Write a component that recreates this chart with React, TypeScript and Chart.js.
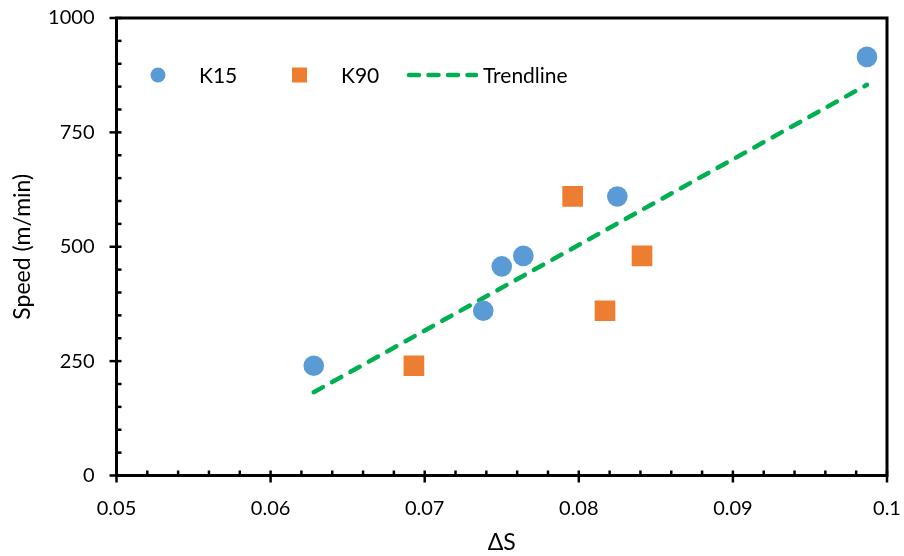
import React, { useEffect, useRef } from 'react';
import { Chart, registerables } from 'chart.js';

Chart.register(...registerables);

// ---- data ----
const k15X = [0.0628, 0.0738, 0.075, 0.0764, 0.0825, 0.0987];
const k15Y = [240, 360, 457, 480, 610, 915];
const k90X = [0.0693, 0.0796, 0.0817, 0.0841];
const k90Y = [240, 610, 360, 480];
const trendX = [0.0628, 0.0987];
const trendY = [182, 854];
const xTicks = [0.05, 0.06, 0.07, 0.08, 0.09, 0.1];
const yTicks = [0, 250, 500, 750, 1000];
const seriesNames = ['K15', 'K90', 'Trendline'];

const BLUE = '#5B9BD5';
const ORANGE = '#ED7D31';
const GREEN = '#00B050';
const FONT = 'Lato';

const toPts = (xs: number[], ys: number[]) => xs.map((x, i) => ({ x, y: ys[i] }));

const zeroPad = (s: any) => {
  s.paddingTop = 0;
  s.paddingBottom = 0;
  s.paddingLeft = 0;
  s.paddingRight = 0;
};

const axesPlugin = {
  id: 'axesFrame',
  beforeDatasetsDraw(chart: any) {
    const { ctx, chartArea: a, scales } = chart;
    const xs = scales.x;
    const ys = scales.y;
    ctx.save();
    ctx.strokeStyle = '#000';
    ctx.lineWidth = 2.5;
    const xMinor = (xTicks[1] - xTicks[0]) / 5;
    const nx = Math.round((xs.max - xs.min) / xMinor);
    for (let i = 0; i <= nx; i++) {
      const px = xs.getPixelForValue(xs.min + i * xMinor);
      const major = i % 5 === 0;
      ctx.beginPath();
      ctx.moveTo(px, a.bottom - 5);
      ctx.lineTo(px, major ? a.bottom + 7 : a.bottom);
      ctx.stroke();
    }
    const yMinor = (yTicks[1] - yTicks[0]) / 5;
    const ny = Math.round((ys.max - ys.min) / yMinor);
    for (let i = 0; i <= ny; i++) {
      const py = ys.getPixelForValue(ys.min + i * yMinor);
      const major = i % 5 === 0;
      ctx.beginPath();
      ctx.moveTo(major ? a.left - 7 : a.left, py);
      ctx.lineTo(a.left + 5, py);
      ctx.stroke();
    }
    ctx.lineWidth = 3;
    ctx.strokeRect(a.left, a.top, a.right - a.left, a.bottom - a.top);
    ctx.restore();
  },
};

const legendPlugin = {
  id: 'insideLegend',
  afterDraw(chart: any) {
    const { ctx } = chart;
    const y = 75;
    ctx.save();
    ctx.font = `21px ${FONT}`;
    ctx.fillStyle = '#000';
    ctx.textBaseline = 'middle';
    ctx.textAlign = 'left';
    // K15
    ctx.beginPath();
    ctx.fillStyle = BLUE;
    ctx.arc(158, y, 7.5, 0, Math.PI * 2);
    ctx.fill();
    ctx.fillStyle = '#000';
    ctx.fillText(seriesNames[0], 199, y + 1);
    // K90
    ctx.fillStyle = ORANGE;
    ctx.fillRect(292, y - 7.5, 15, 15);
    ctx.fillStyle = '#000';
    ctx.fillText(seriesNames[1], 341, y + 1);
    // Trendline
    ctx.strokeStyle = GREEN;
    ctx.lineWidth = 4.5;
    ctx.lineCap = 'round';
    ctx.setLineDash([10, 9.5]);
    ctx.beginPath();
    ctx.moveTo(409, y);
    ctx.lineTo(476, y);
    ctx.stroke();
    ctx.setLineDash([]);
    ctx.fillText(seriesNames[2], 483, y + 1);
    ctx.restore();
  },
};

export default function App() {
  const ref = useRef<HTMLCanvasElement | null>(null);

  useEffect(() => {
    if (!ref.current) return;
    const chart = new Chart(ref.current, {
      type: 'scatter',
      data: {
        datasets: [
          {
            label: seriesNames[0],
            data: toPts(k15X, k15Y),
            backgroundColor: BLUE,
            borderColor: BLUE,
            borderWidth: 0,
            pointRadius: 10.3,
            pointStyle: 'circle',
          },
          {
            label: seriesNames[1],
            data: toPts(k90X, k90Y),
            backgroundColor: ORANGE,
            borderColor: ORANGE,
            borderWidth: 0,
            pointRadius: 14.6,
            pointStyle: 'rect',
          },
          {
            label: seriesNames[2],
            data: toPts(trendX, trendY),
            showLine: true,
            borderColor: GREEN,
            borderWidth: 4.5,
            borderDash: [10.5, 10.5],
            borderCapStyle: 'round',
            pointRadius: 0,
            fill: false,
          } as any,
        ],
      },
      options: {
        responsive: false,
        animation: false,
        devicePixelRatio: 1,
        layout: { padding: { left: 0, top: 18, right: 17, bottom: 0 } },
        plugins: {
          legend: { display: false },
          tooltip: { enabled: false },
        },
        scales: {
          x: {
            type: 'linear',
            min: xTicks[0],
            max: xTicks[xTicks.length - 1],
            afterBuildTicks: (s: any) => {
              s.ticks = xTicks.map((v) => ({ value: v }));
            },
            afterFit: (s: any) => {
              s.height = 80.5;
              zeroPad(s);
            },
            grid: { display: false, drawTicks: false },
            border: { display: false },
            ticks: {
              color: '#000',
              font: { family: FONT, size: 20 },
              padding: 21,
              maxRotation: 0,
              autoSkip: false,
              callback: (v: any) => String(Number(Number(v).toFixed(3))),
            },
            title: {
              display: true,
              text: 'ΔS',
              color: '#000',
              font: { family: FONT, size: 23 },
              padding: { top: 0, bottom: 0 },
            },
          },
          y: {
            type: 'linear',
            min: yTicks[0],
            max: yTicks[yTicks.length - 1],
            afterBuildTicks: (s: any) => {
              s.ticks = yTicks.map((v) => ({ value: v }));
            },
            afterFit: (s: any) => {
              s.width = 116.5;
              zeroPad(s);
            },
            grid: { display: false, drawTicks: false },
            border: { display: false },
            ticks: {
              color: '#000',
              font: { family: FONT, size: 20 },
              padding: 22,
              autoSkip: false,
              callback: (v: any) => String(v),
            },
            title: {
              display: true,
              text: 'Speed (m/min)',
              color: '#000',
              font: { family: FONT, size: 23 },
              padding: { top: 9, bottom: 0 },
            },
          },
        },
      },
      plugins: [axesPlugin, legendPlugin],
    });
    return () => chart.destroy();
  }, []);

  return (
    <div style={{ position: 'absolute', left: 0, top: 0, width: 904, height: 556, background: '#fff' }}>
      <canvas ref={ref} width={904} height={556} style={{ width: 904, height: 556 }} />
    </div>
  );
}
